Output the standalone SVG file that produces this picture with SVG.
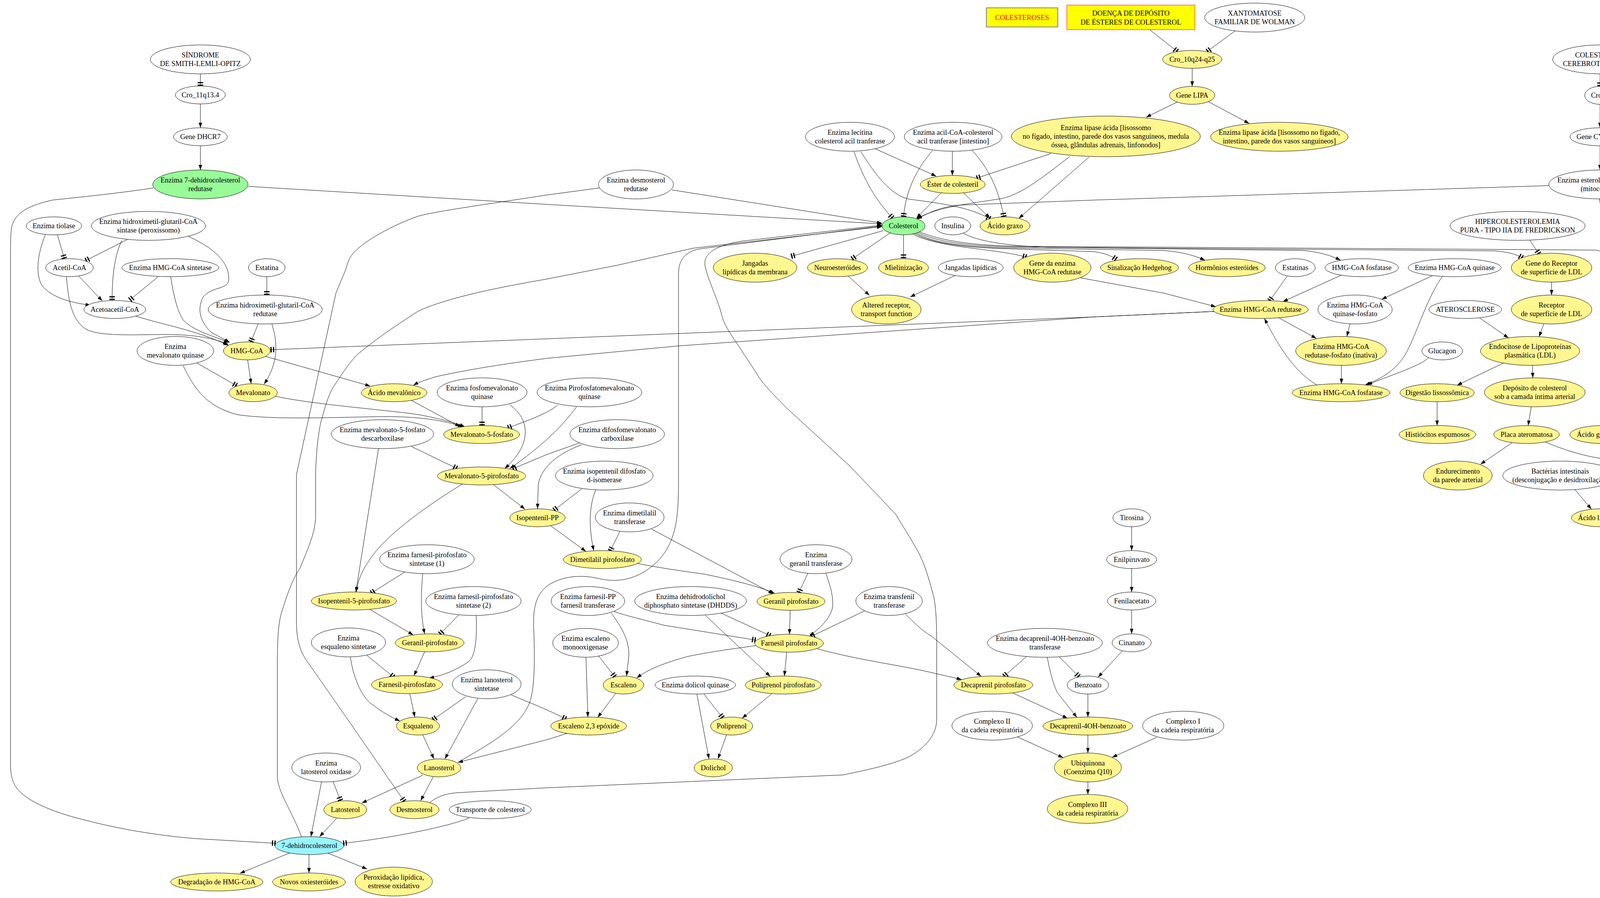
<svg xmlns="http://www.w3.org/2000/svg" width="5486" height="2298" viewBox="0 0 5486 2298">
<style>
text{font-family:"Liberation Serif","Times New Roman",serif;font-size:18.4px;text-anchor:middle;fill:#000}
ellipse{stroke:#000;stroke-width:1}
.w{fill:#fff}.y{fill:#fff68f}.g{fill:#98fb98}.c{fill:#98f5ff}
#edges path{fill:none;stroke:#000;stroke-width:1}
.a{marker-end:url(#ar)}.t{marker-end:url(#tt)}
.mono{font-family:"Liberation Mono","Courier New",monospace;font-weight:bold;text-anchor:start}
</style>
<defs>
<marker id="ar" markerUnits="userSpaceOnUse" markerWidth="14" markerHeight="10" refX="13" refY="4.5" orient="auto" viewBox="0 0 14 10"><path d="M0,0 L13,4.5 L0,9 z" fill="#000"/></marker>
<marker id="tt" markerUnits="userSpaceOnUse" markerWidth="11" markerHeight="16" refX="10" refY="8" orient="auto" viewBox="0 0 11 16"><rect x="0" y="1" width="3" height="14" fill="#000"/><rect x="6.5" y="1" width="3" height="14" fill="#000"/></marker>
</defs>
<rect width="5486" height="2298" fill="#fff"/>
<g id="edges">
<path class="t" d="M513,189 L513,220"/>
<path class="a" d="M513,266 L513,327"/>
<path class="a" d="M513,373 L513,435"/>
<path class="a" d="M636,477 L1400,523 L2258,573"/>
<path class="t" d="M393,481 C300,495 200,505 134,512 C80,525 40,540 30,580 C27,600 27,620 27,650 L27,1957 C27,1990 35,2010 50,2025 C80,2055 140,2080 223,2100 C300,2120 400,2138 500,2146 L706,2158"/>
<path class="t" d="M147,601 L165,662"/>
<path class="a" d="M116,601 C96,650 90,700 107,730 C130,760 180,775 232,781"/>
<path class="t" d="M326,613 L219,667"/>
<path class="t" d="M312,615 C295,650 287,700 287,768"/>
<path class="a" d="M482,605 C560,640 590,680 585,720 C580,740 540,735 520,760 C505,790 510,820 540,850 L588,876"/>
<path class="a" d="M201,706 L262,770"/>
<path class="t" d="M406,707 L332,768"/>
<path class="a" d="M437,708 C445,760 455,800 470,820 C500,850 550,860 586,877"/>
<path class="a" d="M170,708 C175,760 180,820 223,844 C260,860 330,857 411,856 C480,855 540,862 584,881"/>
<path class="a" d="M348,809 C420,832 500,844 585,884"/>
<path class="t" d="M683,708 L683,755"/>
<path class="t" d="M661,829 L642,875"/>
<path class="a" d="M696,829 C712,880 712,930 676,983"/>
<path class="a" d="M634,921 L643,982"/>
<path class="t" d="M504,929 L606,987"/>
<path class="a" d="M469,936 C500,1000 530,1040 607,1061 C700,1075 850,1068 982,1066 C1070,1066 1140,1075 1185,1093"/>
<path class="a" d="M705,1014 C800,1035 1000,1050 1071,1061 C1120,1070 1160,1080 1190,1092"/>
<path class="a" d="M680,912 L948,988"/>
<path class="t" d="M3108,797 L2800,811 L1400,867 L692,895"/>
<path class="a" d="M3108,797 L2800,811 L1739,885 L1400,917 C1300,930 1200,945 1116,964 C1090,972 1072,978 1058,986"/>
<path class="a" d="M1054,1025 L1178,1092"/>
<path class="t" d="M1234,1041 L1234,1089"/>
<path class="a" d="M1305,1036 C1360,1075 1360,1140 1292,1199"/>
<path class="t" d="M1427,1037 C1400,1060 1340,1080 1300,1095"/>
<path class="a" d="M1476,1041 C1440,1090 1390,1140 1305,1199"/>
<path class="t" d="M1485,1133 L1400,1163 L1312,1200"/>
<path class="a" d="M1489,1138 C1430,1160 1385,1195 1378,1240 L1376,1302"/>
<path class="a" d="M1263,1240 L1344,1303"/>
<path class="t" d="M1054,1143 L1170,1199"/>
<path class="a" d="M969,1148 L911,1515"/>
<path class="a" d="M1183,1239 C1100,1290 1000,1360 955,1420 C925,1460 915,1490 912,1515"/>
<path class="t" d="M1036,1464 L950,1518"/>
<path class="a" d="M1082,1468 C1078,1520 1076,1570 1087,1622"/>
<path class="a" d="M946,1559 L1058,1625"/>
<path class="t" d="M1174,1574 L1126,1623"/>
<path class="a" d="M1219,1575 C1222,1640 1215,1680 1201,1692 C1170,1715 1130,1730 1098,1735"/>
<path class="a" d="M1087,1668 L1060,1729"/>
<path class="t" d="M939,1677 L1008,1733"/>
<path class="a" d="M897,1681 C905,1740 930,1790 955,1804 C975,1820 1000,1835 1024,1845"/>
<path class="a" d="M1049,1775 L1062,1835"/>
<path class="t" d="M1192,1783 L1108,1842"/>
<path class="a" d="M1223,1788 L1139,1942"/>
<path class="a" d="M1082,1880 L1111,1942"/>
<path class="a" d="M1082,1984 L926,2055"/>
<path class="a" d="M1109,1988 L1077,2049"/>
<path class="t" d="M853,2001 L872,2049"/>
<path class="a" d="M823,2001 L796,2141"/>
<path class="a" d="M862,2094 L818,2141"/>
<path class="t" d="M1201,2093 C1150,2115 1000,2145 878,2158"/>
<path class="a" d="M741,2183 L614,2235"/>
<path class="a" d="M791,2187 L791,2234"/>
<path class="a" d="M839,2183 L940,2224"/>
<path class="a" d="M1100,2054 C1120,2038 1140,2030 1180,2028 L1400,2016 L2159,1983 C2230,1968 2290,1955 2330,1935 C2370,1912 2398,1880 2398,1840 L2398,1651 C2398,1580 2395,1540 2387,1515 C2375,1470 2365,1440 2351,1413 C2330,1375 2310,1345 2293,1316 L2177,1194 L2016,1046 C1980,1010 1950,980 1936,954 L1882,872 C1860,840 1850,820 1846,800 C1835,760 1810,710 1805,680 C1800,650 1830,628 1900,617 L2258,576"/>
<path class="a" d="M1720,486 L2258,571"/>
<path class="t" d="M1534,481 L1400,499 C1250,522 1120,540 1071,553 C1000,578 940,615 920,633 C900,650 893,660 885,690 L860,750 L759,1214 L759,1600 C760,1640 770,1670 786,1692 L893,1845 L1035,2051"/>
<path class="a" d="M772,2142 C750,2080 712,2030 710,1988 L710,1702 C710,1640 712,1600 720,1570 C735,1520 750,1480 768,1454 C790,1400 808,1360 808,1320 L808,1209 C810,1150 815,1110 821,1082 C835,1030 845,1000 857,985 C880,950 900,920 920,903 C960,870 1000,842 1071,796 C1150,760 1280,735 1400,714 L1579,679 L1775,635 L2258,580"/>
<path class="a" d="M1179,1947 C1260,1900 1330,1860 1355,1800 C1372,1760 1368,1650 1366,1600 C1365,1550 1375,1520 1400,1500 C1430,1478 1480,1468 1530,1480 C1580,1492 1630,1485 1680,1440 C1730,1390 1737,1330 1737,1235 L1737,700 C1737,670 1750,645 1790,637 L2258,578"/>
<path class="t" d="M2186,388 C2205,440 2230,500 2285,558"/>
<path class="t" d="M2204,388 C2260,480 2300,505 2330,510 C2420,522 2480,530 2535,560"/>
<path class="a" d="M2239,380 L2397,451"/>
<path class="t" d="M2387,385 C2350,430 2320,480 2313,555"/>
<path class="a" d="M2438,387 L2438,449"/>
<path class="t" d="M2489,385 C2530,430 2555,480 2570,555"/>
<path class="t" d="M2690,393 L2500,456"/>
<path class="a" d="M2739,400 C2650,470 2600,505 2552,510 C2470,523 2400,530 2346,560"/>
<path class="a" d="M2788,402 L2608,559"/>
<path class="a" d="M2409,494 L2346,558"/>
<path class="a" d="M2467,494 L2534,558"/>
<path class="a" d="M3965,475 L2800,512 L2453,525 C2410,530 2380,542 2348,561"/>
<path class="t" d="M2262,590 L2025,656"/>
<path class="t" d="M2279,596 L2181,663"/>
<path class="t" d="M2313,601 L2313,661"/>
<path class="a" d="M2172,707 L2226,756"/>
<path class="a" d="M2445,705 L2330,760"/>
<path class="t" d="M2337,599 C2360,612 2400,622 2450,630 C2520,640 2580,645 2628,658"/>
<path class="a" d="M2766,711 L2979,750 L3113,785"/>
<path class="t" d="M2340,597 C2380,620 2450,632 2560,636 L2800,644 C2830,648 2845,655 2858,664"/>
<path class="a" d="M2342,595 C2390,622 2460,630 2560,634 L2978,641 C3030,645 3060,655 3085,666"/>
<path class="a" d="M2466,597 C2500,615 2560,628 2680,633 L3335,641 C3380,645 3410,655 3432,666"/>
<path class="t" d="M2345,593 C2400,620 2480,630 2600,632 L3827,642 C3860,645 3880,650 3898,660"/>
<path class="a" d="M2348,591 C2410,618 2500,628 2600,630 L4086,640 C4110,645 4130,656 4150,668"/>
<path class="t" d="M3916,614 L3940,650"/>
<path class="t" d="M2943,76 L3014,132"/>
<path class="t" d="M3162,79 L3090,132"/>
<path class="a" d="M3052,175 L3052,221"/>
<path class="a" d="M3014,261 L2934,300"/>
<path class="a" d="M3093,260 L3198,316"/>
<path class="t" d="M4096,189 L4096,221"/>
<path class="a" d="M4096,267 L4096,327"/>
<path class="a" d="M4096,373 L4096,435"/>
<path class="t" d="M4144,507 L4190,546"/>
<path class="a" d="M4095,509 C4100,560 4110,600 4157,666"/>
<path class="a" d="M4229,615 L4216,662"/>
<path class="t" d="M3295,707 L3250,770"/>
<path class="a" d="M3434,704 L3284,772"/>
<path class="a" d="M3670,704 L3537,766"/>
<path class="a" d="M3693,707 C3660,750 3630,840 3612,878 C3590,930 3560,960 3495,985"/>
<path class="a" d="M3972,722 L3972,755"/>
<path class="a" d="M3273,813 L3370,866"/>
<path class="a" d="M3456,829 L3448,861"/>
<path class="a" d="M3434,935 L3434,982"/>
<path class="a" d="M3371,985 C3330,960 3290,920 3237,815"/>
<path class="a" d="M3657,915 C3640,935 3560,960 3500,985"/>
<path class="a" d="M3787,813 L3862,865"/>
<path class="a" d="M3952,829 L3940,862"/>
<path class="a" d="M3849,929 L3730,986"/>
<path class="a" d="M3923,935 L3924,967"/>
<path class="a" d="M3679,1028 L3679,1089"/>
<path class="a" d="M3920,1041 L3912,1089"/>
<path class="a" d="M3871,1133 L3790,1188"/>
<path class="a" d="M3956,1131 C4000,1150 4060,1170 4121,1176 C4150,1180 4175,1188 4195,1200"/>
<path class="a" d="M4032,1253 L4074,1303"/>
<path class="a" d="M2897,1348 L2897,1409"/>
<path class="a" d="M2897,1455 L2897,1515"/>
<path class="a" d="M2897,1561 L2897,1622"/>
<path class="a" d="M2873,1666 L2811,1733"/>
<path class="a" d="M4216,708 L4233,769"/>
<path class="a" d="M4251,815 L4261,861"/>
<path class="a" d="M4274,935 L4274,982"/>
<path class="a" d="M4358,911 C4450,925 4560,945 4676,969 C4710,978 4730,985 4745,988"/>
<path class="a" d="M4237,1025 C4215,1045 4200,1051 4185,1060 L4141,1092"/>
<path class="a" d="M4417,1020 C4390,1035 4330,1050 4266,1056 C4220,1065 4175,1075 4148,1092"/>
<path class="a" d="M4278,1028 L4289,1089"/>
<path class="a" d="M4573,1020 C4540,1035 4460,1055 4405,1064 C4380,1070 4360,1080 4344,1093"/>
<path class="a" d="M4471,1026 L4512,1089"/>
<path class="a" d="M4643,1022 L4771,1090"/>
<path class="a" d="M4762,1025 C4730,1040 4692,1051 4590,1092"/>
<path class="a" d="M4815,1028 L4815,1089"/>
<path class="a" d="M4864,1026 C4900,1045 4942,1061 4988,1095"/>
<path class="t" d="M4893,1021 C4940,1035 4990,1050 5060,1070 L5119,1087"/>
<path class="a" d="M5125,1027 L5160,1076"/>
<path class="t" d="M5246,1027 L5215,1077"/>
<path class="a" d="M5221,1145 L5266,1197"/>
<path class="a" d="M5357,1145 L5316,1197"/>
<path class="a" d="M4319,1134 L4378,1198"/>
<path class="a" d="M4148,1131 C4180,1145 4220,1158 4282,1166 C4320,1172 4350,1185 4372,1200"/>
<path class="a" d="M4505,1134 L4440,1198"/>
<path class="a" d="M4743,1130 C4700,1140 4650,1155 4600,1170 L4470,1210"/>
<path class="a" d="M4412,1241 L4412,1287"/>
<path class="a" d="M4376,1237 C4350,1255 4300,1275 4200,1298 L4165,1313"/>
<path class="a" d="M4389,68 L4389,115"/>
<path class="a" d="M4389,189 L4389,221"/>
<path class="a" d="M4374,266 L4340,328"/>
<path class="a" d="M4415,265 L4485,328"/>
<path class="t" d="M1587,1360 L1562,1410"/>
<path class="a" d="M1668,1354 L1980,1520"/>
<path class="a" d="M1525,1254 C1510,1290 1505,1340 1520,1409"/>
<path class="t" d="M1489,1251 L1418,1306"/>
<path class="a" d="M1409,1345 L1500,1411"/>
<path class="a" d="M1632,1442 C1700,1455 1750,1462 1802,1469 C1880,1485 1940,1500 1983,1518"/>
<path class="t" d="M1570,1564 C1600,1575 1632,1582 1700,1600 L1935,1638"/>
<path class="a" d="M1565,1569 C1595,1610 1610,1640 1610,1677 L1604,1730"/>
<path class="t" d="M1846,1569 L1972,1627"/>
<path class="a" d="M1806,1575 L1972,1731"/>
<path class="a" d="M2023,1562 L2021,1623"/>
<path class="a" d="M2114,1467 C2130,1510 2135,1540 2130,1560 C2120,1590 2095,1610 2072,1628"/>
<path class="t" d="M2068,1467 L2045,1517"/>
<path class="t" d="M2214,1563 L2076,1629"/>
<path class="a" d="M2315,1568 C2345,1600 2370,1620 2382,1626 L2512,1731"/>
<path class="a" d="M1936,1652 C1880,1660 1829,1666 1760,1680 C1700,1697 1660,1712 1630,1735"/>
<path class="a" d="M2014,1669 L2008,1730"/>
<path class="a" d="M2092,1660 C2200,1690 2293,1700 2380,1720 L2462,1739"/>
<path class="t" d="M1532,1678 L1574,1732"/>
<path class="a" d="M1500,1682 L1505,1835"/>
<path class="a" d="M1576,1775 L1530,1836"/>
<path class="t" d="M1308,1778 C1360,1800 1400,1815 1449,1840"/>
<path class="a" d="M1454,1876 L1400,1893 L1172,1951"/>
<path class="t" d="M1802,1776 L1850,1837"/>
<path class="a" d="M1784,1776 L1815,1942"/>
<path class="a" d="M1976,1775 L1900,1838"/>
<path class="a" d="M1860,1880 L1838,1942"/>
<path class="a" d="M2592,1773 L2733,1838"/>
<path class="t" d="M2628,1680 L2570,1731"/>
<path class="a" d="M2681,1682 C2690,1730 2700,1760 2708,1774 L2757,1836"/>
<path class="t" d="M2712,1681 L2762,1732"/>
<path class="a" d="M2785,1776 L2785,1835"/>
<path class="a" d="M2785,1881 L2785,1927"/>
<path class="a" d="M2605,1886 L2722,1939"/>
<path class="a" d="M2961,1887 L2847,1938"/>
<path class="a" d="M2785,2001 L2785,2033"/>
</g>
<g id="box_colesteroses"><rect x="2525" y="20" width="183" height="49" fill="#ffff00" stroke="#0000ff"/><text x="2616.5" y="51" fill="#ff0000" style="fill:#ff0000">COLESTEROSES</text></g>
<g id="box_doenca"><rect x="2731" y="13" width="328" height="63" fill="#ffff00" stroke="#ff0000"/><text x="2895" y="40">DOENÇA DE DEPÓSITO</text><text x="2895" y="63">DE ÉSTERES DE COLESTEROL</text></g>
<g id="n_slo"><ellipse class="w" cx="513" cy="152" rx="128" ry="37"/><text x="513" y="147">SÍNDROME<tspan x="513" dy="22">DE SMITH-LEMLI-OPITZ</tspan></text></g>
<g id="n_cro11"><ellipse class="w" cx="513" cy="243" rx="64" ry="23"/><text x="513" y="249">Cro_11q13.4</text></g>
<g id="n_dhcr7"><ellipse class="w" cx="513" cy="350" rx="69" ry="23"/><text x="513" y="356">Gene DHCR7</text></g>
<g id="n_e7dhcr"><ellipse class="g" cx="513" cy="472" rx="122" ry="37"/><text x="513" y="467">Enzima 7-dehidrocolesterol<tspan x="513" dy="22">redutase</tspan></text></g>
<g id="n_tiolase"><ellipse class="w" cx="138" cy="578" rx="71" ry="23"/><text x="138" y="584">Enzima tiolase</text></g>
<g id="n_hmgcsp"><ellipse class="w" cx="380" cy="578" rx="146" ry="37"/><text x="380" y="573">Enzima hidroximetil-glutaril-CoA<tspan x="380" dy="22">sintase (peroxissomo)</tspan></text></g>
<g id="n_acetil"><ellipse class="w" cx="178" cy="685" rx="61" ry="23"/><text x="178" y="691">Acetil-CoA</text></g>
<g id="n_hmgcs"><ellipse class="w" cx="436" cy="685" rx="124" ry="23"/><text x="436" y="691">Enzima HMG-CoA sintetase</text></g>
<g id="n_estatina"><ellipse class="w" cx="683" cy="685" rx="47" ry="23"/><text x="683" y="691">Estatina</text></g>
<g id="n_acetoacetil"><ellipse class="w" cx="294" cy="792" rx="79" ry="23"/><text x="294" y="798">Acetoacetil-CoA</text></g>
<g id="n_hmgcre"><ellipse class="w" cx="679" cy="792" rx="146" ry="37"/><text x="679" y="787">Enzima hidroximetil-glutaril-CoA<tspan x="679" dy="22">redutase</tspan></text></g>
<g id="n_hmgcoa"><ellipse class="y" cx="632" cy="898" rx="60" ry="23"/><text x="632" y="904">HMG-CoA</text></g>
<g id="n_mvk"><ellipse class="w" cx="449" cy="898" rx="98" ry="37"/><text x="449" y="893">Enzima<tspan x="449" dy="22">mevalonato quinase</tspan></text></g>
<g id="n_mevalonato"><ellipse class="y" cx="648" cy="1005" rx="62" ry="23"/><text x="648" y="1011">Mevalonato</text></g>
<g id="n_acmeval"><ellipse class="y" cx="1009" cy="1005" rx="84" ry="23"/><text x="1009" y="1011">Ácido mevalônico</text></g>
<g id="n_pmk"><ellipse class="w" cx="1234" cy="1004" rx="115" ry="37"/><text x="1234" y="999">Enzima fosfomevalonato<tspan x="1234" dy="22">quinase</tspan></text></g>
<g id="n_m5p"><ellipse class="y" cx="1233" cy="1112" rx="97" ry="23"/><text x="1233" y="1118">Mevalonato-5-fosfato</text></g>
<g id="n_m5pd"><ellipse class="w" cx="979" cy="1111" rx="131" ry="37"/><text x="979" y="1106">Enzima mevalonato-5-fosfato<tspan x="979" dy="22">descarboxilase</tspan></text></g>
<g id="n_m5pp"><ellipse class="y" cx="1233" cy="1218" rx="113" ry="23"/><text x="1233" y="1224">Mevalonato-5-pirofosfato</text></g>
<g id="n_ipp"><ellipse class="y" cx="1376" cy="1325" rx="71" ry="23"/><text x="1376" y="1331">Isopentenil-PP</text></g>
<g id="n_fpps1"><ellipse class="w" cx="1093" cy="1431" rx="121" ry="37"/><text x="1093" y="1426">Enzima farnesil-pirofosfato<tspan x="1093" dy="22">sintetase (1)</tspan></text></g>
<g id="n_ipp5"><ellipse class="y" cx="906" cy="1538" rx="109" ry="23"/><text x="906" y="1544">Isopentenil-5-pirofosfato</text></g>
<g id="n_fpps2"><ellipse class="w" cx="1212" cy="1538" rx="122" ry="37"/><text x="1212" y="1533">Enzima farnesil-pirofosfato<tspan x="1212" dy="22">sintetase (2)</tspan></text></g>
<g id="n_pmvk"><ellipse class="w" cx="1509" cy="1004" rx="134" ry="37"/><text x="1509" y="999">Enzima Pirofosfatomevalonato<tspan x="1509" dy="22">quinase</tspan></text></g>
<g id="n_dmvc"><ellipse class="w" cx="1580" cy="1111" rx="121" ry="37"/><text x="1580" y="1106">Enzima difosfomevalonato<tspan x="1580" dy="22">carboxilase</tspan></text></g>
<g id="n_ipi"><ellipse class="w" cx="1547" cy="1217" rx="125" ry="37"/><text x="1547" y="1212">Enzima isopentenil difosfato<tspan x="1547" dy="22">d-isomerase</tspan></text></g>
<g id="n_dmat"><ellipse class="w" cx="1612" cy="1324" rx="88" ry="37"/><text x="1612" y="1319">Enzima dimetilalil<tspan x="1612" dy="22">transferase</tspan></text></g>
<g id="n_dmapp"><ellipse class="y" cx="1542" cy="1432" rx="100" ry="23"/><text x="1542" y="1438">Dimetilalil pirofosfato</text></g>
<g id="n_ggt"><ellipse class="w" cx="2089" cy="1431" rx="92" ry="37"/><text x="2089" y="1426">Enzima<tspan x="2089" dy="22">geranil transferase</tspan></text></g>
<g id="n_gpp"><ellipse class="y" cx="2025" cy="1539" rx="87" ry="23"/><text x="2025" y="1545">Geranil pirofosfato</text></g>
<g id="n_altered"><ellipse class="y" cx="2269" cy="792" rx="89" ry="37"/><text x="2269" y="787">Altered receptor,<tspan x="2269" dy="22">transport function</tspan></text></g>
<g id="n_fppft"><ellipse class="w" cx="1505" cy="1538" rx="94" ry="37"/><text x="1505" y="1533">Enzima farnesil-PP<tspan x="1505" dy="22">farnesil transferase</tspan></text></g>
<g id="n_dhdds"><ellipse class="w" cx="1768" cy="1538" rx="143" ry="37"/><text x="1768" y="1533">Enzima dehidrodolichol<tspan x="1768" dy="22">diphosphato sintetase (DHDDS)</tspan></text></g>
<g id="n_tpt"><ellipse class="w" cx="2276" cy="1538" rx="85" ry="37"/><text x="2276" y="1533">Enzima transfenil<tspan x="2276" dy="22">transferase</tspan></text></g>
<g id="n_fpp"><ellipse class="y" cx="2020" cy="1646" rx="88" ry="23"/><text x="2020" y="1652">Farnesil pirofosfato</text></g>
<g id="n_sqmo"><ellipse class="w" cx="1499" cy="1645" rx="84" ry="37"/><text x="1499" y="1640">Enzima escaleno<tspan x="1499" dy="22">monooxigenase</tspan></text></g>
<g id="n_escaleno"><ellipse class="y" cx="1596" cy="1753" rx="52" ry="23"/><text x="1596" y="1759">Escaleno</text></g>
<g id="n_dolk"><ellipse class="w" cx="1780" cy="1753" rx="103" ry="23"/><text x="1780" y="1759">Enzima dolicol quinase</text></g>
<g id="n_polipp"><ellipse class="y" cx="2005" cy="1753" rx="97" ry="23"/><text x="2005" y="1759">Poliprenol pirofosfato</text></g>
<g id="n_esc23"><ellipse class="y" cx="1507" cy="1858" rx="97" ry="23"/><text x="1507" y="1864">Escaleno 2,3 epóxide</text></g>
<g id="n_poliprenol"><ellipse class="y" cx="1873" cy="1858" rx="54" ry="23"/><text x="1873" y="1864">Poliprenol</text></g>
<g id="n_dolichol"><ellipse class="y" cx="1826" cy="1965" rx="49" ry="23"/><text x="1826" y="1971">Dolichol</text></g>
<g id="n_decapp"><ellipse class="y" cx="2543" cy="1753" rx="101" ry="23"/><text x="2543" y="1759">Decaprenil pirofosfato</text></g>
<g id="n_dc4ohbt"><ellipse class="w" cx="2675" cy="1645" rx="147" ry="37"/><text x="2675" y="1640">Enzima decaprenil-4OH-benzoato<tspan x="2675" dy="22">transferase</tspan></text></g>
<g id="n_benzoato"><ellipse class="w" cx="2785" cy="1753" rx="53" ry="23"/><text x="2785" y="1759">Benzoato</text></g>
<g id="n_dc4oh"><ellipse class="y" cx="2785" cy="1858" rx="115" ry="23"/><text x="2785" y="1864">Decaprenil-4OH-benzoato</text></g>
<g id="n_c2"><ellipse class="w" cx="2540" cy="1857" rx="103" ry="37"/><text x="2540" y="1852">Complexo II<tspan x="2540" dy="22">da cadeia respiratória</tspan></text></g>
<g id="n_ubiq"><ellipse class="y" cx="2785" cy="1964" rx="86" ry="37"/><text x="2785" y="1959">Ubiquinona<tspan x="2785" dy="22">(Coenzima Q10)</tspan></text></g>
<g id="n_c3"><ellipse class="y" cx="2784" cy="2070" rx="103" ry="37"/><text x="2784" y="2065">Complexo III<tspan x="2784" dy="22">da cadeia respiratória</tspan></text></g>
<g id="n_c1"><ellipse class="w" cx="3029" cy="1857" rx="104" ry="37"/><text x="3029" y="1852">Complexo I<tspan x="3029" dy="22">da cadeia respiratória</tspan></text></g>
<g id="n_fenilacetato"><ellipse class="w" cx="2897" cy="1538" rx="62" ry="23"/><text x="2897" y="1544">Fenilacetato</text></g>
<g id="n_cinanato"><ellipse class="w" cx="2897" cy="1645" rx="50" ry="23"/><text x="2897" y="1651">Cinanato</text></g>
<g id="n_tirosina"><ellipse class="w" cx="2897" cy="1325" rx="48" ry="23"/><text x="2897" y="1331">Tirosina</text></g>
<g id="n_enilpiruvato"><ellipse class="w" cx="2897" cy="1432" rx="64" ry="23"/><text x="2897" y="1438">Enilpiruvato</text></g>
<g id="n_sqs"><ellipse class="w" cx="892" cy="1644" rx="95" ry="37"/><text x="892" y="1639">Enzima<tspan x="892" dy="22">esqualeno sintetase</tspan></text></g>
<g id="n_geranilpf"><ellipse class="y" cx="1100" cy="1645" rx="88" ry="23"/><text x="1100" y="1651">Geranil-pirofosfato</text></g>
<g id="n_farnesilpf"><ellipse class="y" cx="1042" cy="1752" rx="91" ry="23"/><text x="1042" y="1758">Farnesil-pirofosfato</text></g>
<g id="n_lss"><ellipse class="w" cx="1246" cy="1751" rx="88" ry="37"/><text x="1246" y="1746">Enzima lanosterol<tspan x="1246" dy="22">sintetase</tspan></text></g>
<g id="n_esqualeno"><ellipse class="y" cx="1070" cy="1858" rx="55" ry="23"/><text x="1070" y="1864">Esqualeno</text></g>
<g id="n_lanosterol"><ellipse class="y" cx="1124" cy="1965" rx="56" ry="23"/><text x="1124" y="1971">Lanosterol</text></g>
<g id="n_lox"><ellipse class="w" cx="835" cy="1964" rx="88" ry="37"/><text x="835" y="1959">Enzima<tspan x="835" dy="22">latosterol oxidase</tspan></text></g>
<g id="n_latosterol"><ellipse class="y" cx="884" cy="2072" rx="55" ry="23"/><text x="884" y="2078">Latosterol</text></g>
<g id="n_desmosterol"><ellipse class="y" cx="1061" cy="2072" rx="63" ry="23"/><text x="1061" y="2078">Desmosterol</text></g>
<g id="n_transporte"><ellipse class="w" cx="1255" cy="2072" rx="105" ry="23"/><text x="1255" y="2078">Transporte de colesterol</text></g>
<g id="n_7dhc"><ellipse class="c" cx="792" cy="2164" rx="88" ry="23"/><text x="792" y="2170">7-dehidrocolesterol</text></g>
<g id="n_deg"><ellipse class="y" cx="555" cy="2257" rx="118" ry="23"/><text x="555" y="2263">Degradação de HMG-CoA</text></g>
<g id="n_novos"><ellipse class="y" cx="791" cy="2257" rx="93" ry="23"/><text x="791" y="2263">Novos oxiesteróides</text></g>
<g id="n_perox"><ellipse class="y" cx="1008" cy="2256" rx="99" ry="37"/><text x="1008" y="2251">Peroxidação lipídica,<tspan x="1008" dy="22">estresse oxidativo</tspan></text></g>
<g id="n_desmored"><ellipse class="w" cx="1628" cy="472" rx="96" ry="37"/><text x="1628" y="467">Enzima desmosterol<tspan x="1628" dy="22">redutase</tspan></text></g>
<g id="n_lcat"><ellipse class="w" cx="2176" cy="350" rx="114" ry="37"/><text x="2176" y="345">Enzima lecitina<tspan x="2176" dy="22">colesterol acil tranferase</tspan></text></g>
<g id="n_acat"><ellipse class="w" cx="2440" cy="350" rx="125" ry="37"/><text x="2440" y="345">Enzima acil-CoA-colesterol<tspan x="2440" dy="22">acil tranferase [intestino]</tspan></text></g>
<g id="n_lipase1"><ellipse class="y" cx="2831" cy="349" rx="242" ry="52"/><text x="2831" y="333">Enzima lipase ácida [lisossomo<tspan x="2831" dy="22">no fígado, intestino, parede dos vasos sanguíneos, medula</tspan><tspan x="2831" dy="22">óssea, glândulas adrenais, linfonodos]</tspan></text></g>
<g id="n_ester"><ellipse class="y" cx="2439" cy="472" rx="83" ry="23"/><text x="2439" y="478">Éster de colesteril</text></g>
<g id="n_colesterol"><ellipse class="g" cx="2313" cy="578" rx="55" ry="23"/><text x="2313" y="584">Colesterol</text></g>
<g id="n_insulina"><ellipse class="w" cx="2439" cy="578" rx="46" ry="23"/><text x="2439" y="584">Insulina</text></g>
<g id="n_acgraxo"><ellipse class="y" cx="2573" cy="578" rx="64" ry="23"/><text x="2573" y="584">Ácido graxo</text></g>
<g id="n_jangmem"><ellipse class="y" cx="1933" cy="685" rx="107" ry="37"/><text x="1933" y="680">Jangadas<tspan x="1933" dy="22">lipídicas da membrana</tspan></text></g>
<g id="n_neuro"><ellipse class="y" cx="2144" cy="685" rx="77" ry="23"/><text x="2144" y="691">Neuroesteróides</text></g>
<g id="n_mielin"><ellipse class="y" cx="2313" cy="685" rx="64" ry="23"/><text x="2313" y="691">Mielinização</text></g>
<g id="n_jang"><ellipse class="w" cx="2485" cy="685" rx="83" ry="23"/><text x="2485" y="691">Jangadas lipídicas</text></g>
<g id="n_genehmgcr"><ellipse class="y" cx="2694" cy="685" rx="99" ry="37"/><text x="2694" y="680">Gene da enzima<tspan x="2694" dy="22">HMG-CoA redutase</tspan></text></g>
<g id="n_xanto"><ellipse class="w" cx="3212" cy="45" rx="128" ry="37"/><text x="3212" y="40">XANTOMATOSE<tspan x="3212" dy="22">FAMILIAR DE WOLMAN</tspan></text></g>
<g id="n_cro10"><ellipse class="y" cx="3052" cy="152" rx="76" ry="23"/><text x="3052" y="158">Cro_10q24-q25</text></g>
<g id="n_lipa"><ellipse class="y" cx="3052" cy="244" rx="58" ry="23"/><text x="3052" y="250">Gene LIPA</text></g>
<g id="n_lipase2"><ellipse class="y" cx="3275" cy="350" rx="176" ry="37"/><text x="3275" y="345">Enzima lipase ácida [lisossomo no fígado,<tspan x="3275" dy="22">intestino, parede dos vasos sanguíneos]</tspan></text></g>
<g id="n_ctx"><ellipse class="w" cx="4096" cy="152" rx="121" ry="37"/><text x="4096" y="147">COLESTEROSE<tspan x="4096" dy="22">CEREBROTENDINOSA</tspan></text></g>
<g id="n_cro2"><ellipse class="w" cx="4096" cy="244" rx="39" ry="23"/><text x="4096" y="250">Cro_2</text></g>
<g id="n_cyp"><ellipse class="w" cx="4096" cy="350" rx="77" ry="23"/><text x="4096" y="356">Gene CYP27A1</text></g>
<g id="n_e27"><ellipse class="w" cx="4097" cy="472" rx="132" ry="37"/><text x="4097" y="467">Enzima esterol 27-hidroxilase<tspan x="4097" dy="22">(mitocôndria)</tspan></text></g>
<g id="n_hiperc"><ellipse class="w" cx="3885" cy="578" rx="173" ry="37"/><text x="3885" y="573">HIPERCOLESTEROLEMIA<tspan x="3885" dy="22">PURA - TIPO IIA DE FREDRICKSON</tspan></text></g>
<g id="n_e27b"><ellipse class="w" cx="4237" cy="578" rx="103" ry="37"/><text x="4237" y="573">Esterol 27-hidroxilase<tspan x="4237" dy="22">(mitocôndria)</tspan></text></g>
<g id="n_hedgehog"><ellipse class="y" cx="2917" cy="685" rx="100" ry="23"/><text x="2917" y="691">Sinalização Hedgehog</text></g>
<g id="n_hormonios"><ellipse class="y" cx="3141" cy="685" rx="98" ry="23"/><text x="3141" y="691">Hormônios esteróides</text></g>
<g id="n_estatinas"><ellipse class="w" cx="3316" cy="685" rx="51" ry="23"/><text x="3316" y="691">Estatinas</text></g>
<g id="n_hmgcoafosf"><ellipse class="w" cx="3486" cy="685" rx="94" ry="23"/><text x="3486" y="691">HMG-CoA fosfatase</text></g>
<g id="n_hmgcoaquin"><ellipse class="w" cx="3724" cy="685" rx="119" ry="23"/><text x="3724" y="691">Enzima HMG-CoA quinase</text></g>
<g id="n_generec"><ellipse class="y" cx="3972" cy="685" rx="103" ry="37"/><text x="3972" y="680">Gene do Receptor<tspan x="3972" dy="22">de superfície de LDL</tspan></text></g>
<g id="n_hidroxi7"><ellipse class="y" cx="4208" cy="685" rx="86" ry="23"/><text x="4208" y="691">7-hidroxicolesterol</text></g>
<g id="n_hmgcr"><ellipse class="y" cx="3227" cy="792" rx="122" ry="23"/><text x="3227" y="798">Enzima HMG-CoA redutase</text></g>
<g id="n_hmgcrqf"><ellipse class="w" cx="3469" cy="792" rx="95" ry="37"/><text x="3469" y="787">Enzima HMG-CoA<tspan x="3469" dy="22">quinase-fosfato</tspan></text></g>
<g id="n_ateros"><ellipse class="w" cx="3751" cy="792" rx="93" ry="23"/><text x="3751" y="798">ATEROSCLEROSE</text></g>
<g id="n_receptor"><ellipse class="y" cx="3972" cy="792" rx="103" ry="37"/><text x="3972" y="787">Receptor<tspan x="3972" dy="22">de superfície de LDL</tspan></text></g>
<g id="n_hidroxi12"><ellipse class="y" cx="4244" cy="792" rx="91" ry="23"/><text x="4244" y="798">12-hidroxicolesterol</text></g>
<g id="n_hmgcrinat"><ellipse class="y" cx="3433" cy="898" rx="116" ry="37"/><text x="3433" y="893">Enzima HMG-CoA<tspan x="3433" dy="22">redutase-fosfato (inativa)</tspan></text></g>
<g id="n_glucagon"><ellipse class="w" cx="3692" cy="898" rx="52" ry="23"/><text x="3692" y="904">Glucagon</text></g>
<g id="n_endocitose"><ellipse class="y" cx="3917" cy="898" rx="127" ry="37"/><text x="3917" y="893">Endocitose de Lipoproteínas<tspan x="3917" dy="22">plasmática (LDL)</tspan></text></g>
<g id="n_acbilprim"><ellipse class="y" cx="4274" cy="898" rx="88" ry="37"/><text x="4274" y="893">Ácidos<tspan x="4274" dy="22">biliares primários</tspan></text></g>
<g id="n_hmgcrfosf"><ellipse class="y" cx="3433" cy="1005" rx="125" ry="23"/><text x="3433" y="1011">Enzima HMG-CoA fosfatase</text></g>
<g id="n_digestao"><ellipse class="y" cx="3679" cy="1005" rx="95" ry="23"/><text x="3679" y="1011">Digestão lissossômica</text></g>
<g id="n_deposito"><ellipse class="y" cx="3929" cy="1004" rx="129" ry="37"/><text x="3929" y="999">Depósito de colesterol<tspan x="3929" dy="22">sob a camada íntima arterial</tspan></text></g>
<g id="n_histesp"><ellipse class="y" cx="3680" cy="1112" rx="98" ry="23"/><text x="3680" y="1118">Histiócitos espumosos</text></g>
<g id="n_placa"><ellipse class="y" cx="3908" cy="1112" rx="84" ry="23"/><text x="3908" y="1118">Placa ateromatosa</text></g>
<g id="n_acglico"><ellipse class="y" cx="4102" cy="1112" rx="83" ry="23"/><text x="4102" y="1118">Ácido glicocólico</text></g>
<g id="n_endurec"><ellipse class="y" cx="3732" cy="1217" rx="88" ry="37"/><text x="3732" y="1212">Endurecimento<tspan x="3732" dy="22">da parede arterial</tspan></text></g>
<g id="n_bacterias"><ellipse class="w" cx="3994" cy="1217" rx="147" ry="37"/><text x="3994" y="1212">Bactérias intestinais<tspan x="3994" dy="22">(desconjugação e desidroxilação)</tspan></text></g>
<g id="n_estenose"><ellipse class="y" cx="4245" cy="1218" rx="79" ry="23"/><text x="4245" y="1224">Estenose arterial</text></g>
<g id="n_litocolico"><ellipse class="y" cx="4099" cy="1325" rx="76" ry="23"/><text x="4099" y="1331">Ácido litocólico</text></g>
<g id="n_acolico"><ellipse class="y" cx="4273" cy="1005" rx="64" ry="23"/><text x="4273" y="1011">Ácido cólico</text></g>
<g id="n_glicina"><ellipse class="w" cx="4451" cy="1005" rx="44" ry="23"/><text x="4451" y="1011">Glicina</text></g>
<g id="n_taurina"><ellipse class="w" cx="4611" cy="1005" rx="46" ry="23"/><text x="4611" y="1011">Taurina</text></g>
<g id="n_queno"><ellipse class="y" cx="4816" cy="1005" rx="111" ry="23"/><text x="4816" y="1011">Ácido quenodesoxicólico</text></g>
<g id="n_vitc"><ellipse class="w" cx="5107" cy="1005" rx="59" ry="23"/><text x="5107" y="1011">Vitamina C</text></g>
<g id="n_acbil"><ellipse class="w" cx="5264" cy="1005" rx="73" ry="23"/><text x="5264" y="1011">Ácidos biliares</text></g>
<g id="n_tauroc"><ellipse class="y" cx="4294" cy="1112" rx="85" ry="23"/><text x="4294" y="1118">Ácido taurocólico</text></g>
<g id="n_glicoq"><ellipse class="y" cx="4531" cy="1112" rx="128" ry="23"/><text x="4531" y="1118">Ácido glicoquenodesoxicólico</text></g>
<g id="n_tauroq"><ellipse class="y" cx="4815" cy="1112" rx="130" ry="23"/><text x="4815" y="1118">Ácido tauroquenodesoxicólico</text></g>
<g id="n_colestrol"><ellipse class="y" cx="5021" cy="1112" rx="50" ry="23"/><text x="5021" y="1118">Colestrol</text></g>
<g id="n_c7h"><ellipse class="y" cx="5185" cy="1111" rx="90" ry="37"/><text x="5185" y="1106">Enzima Colesterol<tspan x="5185" dy="22">7-hidroxilase</tspan></text></g>
<g id="n_c12h"><ellipse class="w" cx="5392" cy="1111" rx="90" ry="37"/><text x="5392" y="1106">Enzima Colesterol<tspan x="5392" dy="22">12-hidroxilase</tspan></text></g>
<g id="n_sais"><ellipse class="y" cx="4412" cy="1218" rx="62" ry="23"/><text x="4412" y="1224">Sais biliares</text></g>
<g id="n_e12hcol"><ellipse class="y" cx="5289" cy="1218" rx="122" ry="23"/><text x="5289" y="1224">Enzima 12-hidroxicolesterol</text></g>
<g id="n_absorcao"><ellipse class="y" cx="4412" cy="1324" rx="106" ry="37"/><text x="4412" y="1319">Absorção intestinal<tspan x="4412" dy="22">de sais biliares no íleo</tspan></text></g>
<g id="n_histiocitos"><ellipse class="w" cx="4389" cy="45" rx="57" ry="23"/><text x="4389" y="51">Histiócitos</text></g>
<g id="n_obstrucao"><ellipse class="w" cx="4389" cy="152" rx="90" ry="37"/><text x="4389" y="147">Obstrução<tspan x="4389" dy="22">linfática intestinal</tspan></text></g>
<g id="n_esteatorreia"><ellipse class="w" cx="4389" cy="244" rx="62" ry="23"/><text x="4389" y="250">Esteatorréia</text></g>
<g id="n_baixo"><ellipse class="w" cx="4323" cy="350" rx="60" ry="23"/><text x="4323" y="356">Baixo peso</text></g>
<g id="n_retardo"><ellipse class="w" cx="4512" cy="350" rx="105" ry="23"/><text x="4512" y="356">Retardo no crescimento</text></g>
<g id="credit"><text class="mono" x="5325" y="2275" style="font-size:14px">bioinfo.ufc.br</text><text class="mono" x="5325" y="2287" style="font-size:11.5px">Prof. Alberto M. Soares</text></g>
</svg>
